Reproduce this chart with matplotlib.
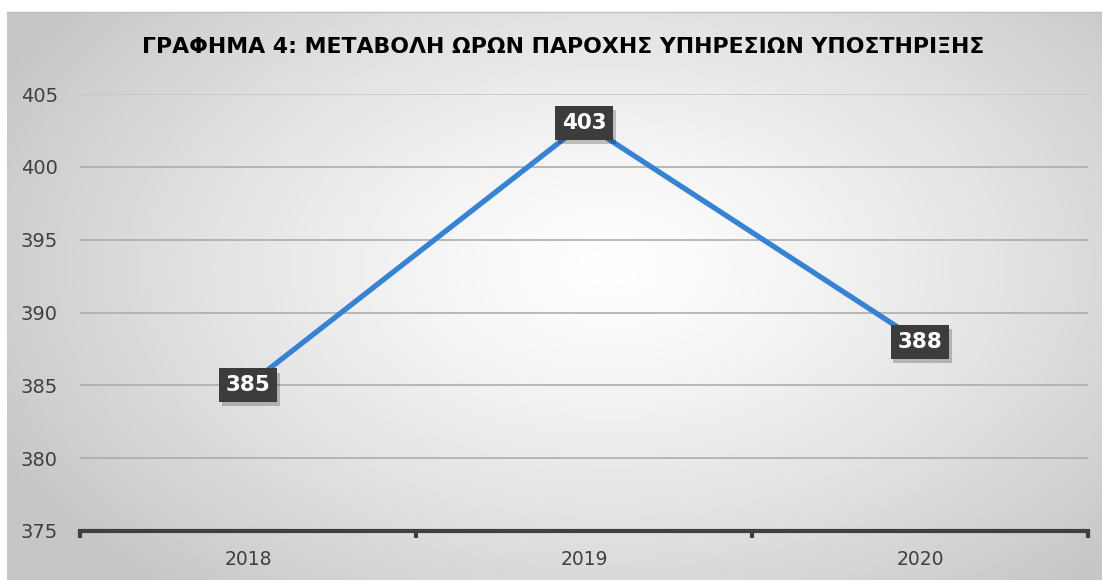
import numpy as np
import matplotlib
matplotlib.use("Agg")
import matplotlib.pyplot as plt
import matplotlib.patheffects as pe

years = ["2018", "2019", "2020"]
hours = [385, 403, 388]
yticks = [375, 380, 385, 390, 395, 400, 405]
title = "ΓΡΑΦΗΜΑ 4: ΜΕΤΑΒΟΛΗ ΩΡΩΝ ΠΑΡΟΧΗΣ ΥΠΗΡΕΣΙΩΝ ΥΠΟΣΤΗΡΙΞΗΣ"

W, H = 1102, 580
fig = plt.figure(figsize=(W / 100, H / 100), dpi=100)
fig.patch.set_facecolor("white")

# gradient background panel
bx0, by0, bx1, by1 = 7, 12, 1102, 580
bg = fig.add_axes([bx0 / W, 1 - by1 / H, (bx1 - bx0) / W, (by1 - by0) / H])
nx, ny = 400, 220
xx, yy = np.meshgrid(np.linspace(0, 1, nx), np.linspace(0, 1, ny))
cx, cy = 0.55, 0.55
r = np.sqrt(((xx - cx) / 0.62) ** 2 + ((yy - cy) / 0.75) ** 2)
r = np.clip(r, 0, 1)
val = 1.0 - 0.22 * r ** 1.3
img = np.dstack([val, val, val])
bg.imshow(img, aspect="auto", extent=[0, 1, 0, 1], origin="lower", interpolation="bilinear")
bg.set_axis_off()
bg.plot([0, 1], [1, 1], color="#c0c0c0", lw=1, transform=bg.transAxes, clip_on=False)

# plot area
px0, px1, py0, py1 = 80, 1088, 94, 531
ax = fig.add_axes([px0 / W, 1 - py1 / H, (px1 - px0) / W, (py1 - py0) / H])
ax.set_facecolor("none")
x = np.arange(len(years))
ax.set_xlim(-0.5, len(years) - 0.5)
ax.set_ylim(375, 405)
ax.set_yticks(yticks)
ax.set_yticklabels([str(v) for v in yticks], fontsize=14, color="#404040", family="DejaVu Sans")
ax.set_xticks(x)
ax.set_xticklabels(years, fontsize=13.5, color="#404040", family="DejaVu Sans")
ax.tick_params(axis="y", length=0, pad=16)
ax.tick_params(axis="x", length=0, pad=14)
for yv in yticks[1:]:
    ax.axhline(yv, color="#c4c4c4" if yv == yticks[-1] else "#a8a8a8", lw=1.1, zorder=1)
for s in ["top", "right", "left"]:
    ax.spines[s].set_visible(False)
ax.spines["bottom"].set_color("#404040")
ax.spines["bottom"].set_linewidth(3)
# category boundary tick marks
for b in [-0.5, 0.5, 1.5, 2.5]:
    ax.plot([b, b], [0, -0.016], color="#404040", lw=3, transform=ax.get_xaxis_transform(),
            clip_on=False, solid_capstyle="butt")

ax.plot(x, hours, color="#3583d4", lw=3.8, zorder=3, solid_capstyle="round")

for xi, v in zip(x, hours):
    t = ax.text(xi, v, str(v), ha="center", va="center", fontsize=15.5, fontweight="bold",
                color="white", zorder=5,
                bbox=dict(boxstyle="square,pad=0.32", fc="#3c3c3c", ec="none"))
    t.get_bbox_patch().set_path_effects([
        pe.SimplePatchShadow(offset=(2, -3), shadow_rgbFace="black", alpha=0.22),
        pe.Normal()])

fig.text(563 / W, 1 - 47 / H, title, ha="center", va="center",
         fontsize=15.8, fontweight="bold", color="black", family="DejaVu Sans")

fig.savefig("out.png", dpi=100)
